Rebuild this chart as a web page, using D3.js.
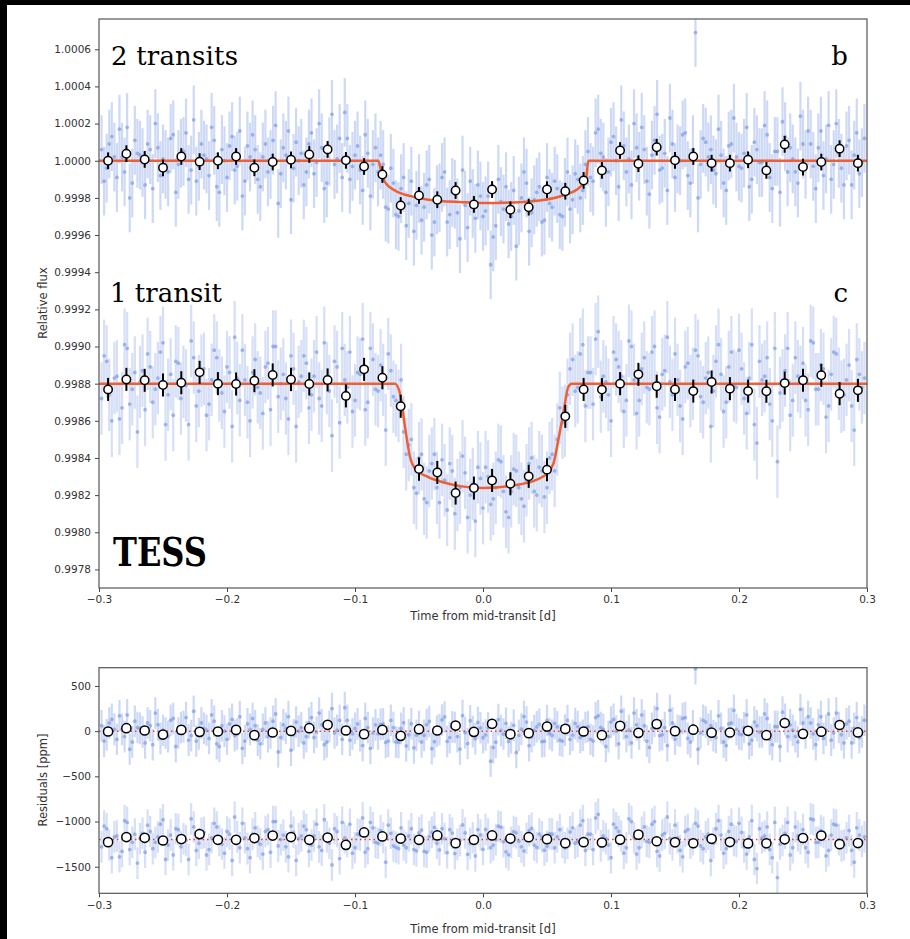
<!DOCTYPE html>
<html>
<head>
<meta charset="utf-8">
<script src="https://cdn.jsdelivr.net/npm/d3@7"></script>
<style>
  body { margin: 0; background: #fff; }
  svg { display: block; }
</style>
</head>
<body>
<svg id="chart" width="910" height="939"></svg>
<script>
// binned points (ppm). b relative to 1.0, c relative to 0.9988
const binT = [-0.2929,-0.2786,-0.2643,-0.2500,-0.2357,-0.2214,-0.2071,-0.1929,-0.1786,-0.1643,
  -0.1500,-0.1357,-0.1214,-0.1071,-0.0929,-0.0786,-0.0643,-0.0500,-0.0357,-0.0214,-0.0071,
  0.0071,0.0214,0.0357,0.0500,0.0643,0.0786,0.0929,0.1071,0.1214,0.1357,0.1500,0.1643,
  0.1786,0.1929,0.2071,0.2214,0.2357,0.2500,0.2643,0.2786,0.2929];
const binB = [0,38,7,-38,23,-5,0,23,-38,-7,5,34,61,2,-31,-74,-241,-187,-210,-160,-235,
  -155,-264,-250,-155,-164,-106,-52,55,-16,73,2,23,-13,-13,5,-52,88,-34,-7,65,-13];
const binC = [-31,23,18,-7,5,61,0,-2,16,47,23,-2,20,-66,77,32,-122,-460,-478,-589,-562,
  -521,-539,-499,-463,-176,-31,-32,0,50,-14,-31,-40,9,-27,-40,-41,3,18,45,-54,-36];
const binResB = [-4,33,7,-38,14,-8,-4,14,-44,-15,3,33,70,7,-33,14,-52,22,7,62,-8,
  81,-33,-22,51,25,-4,-44,58,-19,78,0,16,-17,-15,4,-45,90,-30,-6,68,-14];
const binResC = [-28,28,20,-10,6,61,-2,-2,17,45,28,-2,23,-58,79,35,12,-2,46,-39,-2,
  46,12,27,5,-39,-28,-32,0,55,-18,-30,-40,9,-27,-42,-41,3,18,45,-50,-38];
const binErrB = 45, binErrC = 62;

// transit models (knots, ppm)
const modelBT = [-0.3,-0.0818,-0.0797,-0.0766,-0.0688,-0.0557,-0.0427,-0.0166,0.002,0.0367,0.0625,0.0758,0.0805,0.0823,0.3];
const modelBV = [0,0,-52,-115,-160,-192,-210,-223,-228,-219,-187,-142,-97,0,0];
const modelCT = [-0.3,-0.0688,-0.0648,-0.0609,-0.057,-0.053,-0.0427,-0.0297,-0.0166,0,0.0237,0.042,0.0498,0.055,0.0588,0.0627,0.0666,0.0693,0.3];
const modelCV = [0,0,-54,-234,-395,-458,-503,-533,-553,-562,-548,-517,-485,-431,-305,-162,-18,0,0];

// unbinned TESS points (ppm), first set of cadences
const rawT = [-0.298,-0.294,-0.290,-0.286,-0.282,-0.278,-0.274,-0.270,-0.266,-0.262,
  -0.258,-0.254,-0.250,-0.246,-0.242,-0.238,-0.234,-0.230,-0.226,-0.222,
  -0.218,-0.214,-0.210,-0.206,-0.202,-0.198,-0.194,-0.190,-0.186,-0.182,
  -0.178,-0.174,-0.170,-0.166,-0.162,-0.158,-0.154,-0.150,-0.146,-0.142,
  -0.138,-0.134,-0.130,-0.126,-0.122,-0.118,-0.114,-0.110,-0.106,-0.102,
  -0.098,-0.094,-0.090,-0.086,-0.082,-0.078,-0.074,-0.070,-0.066,-0.062,
  -0.058,-0.054,-0.050,-0.046,-0.042,-0.038,-0.034,-0.030,-0.026,-0.022,
  -0.018,-0.014,-0.010,-0.006,-0.002,0.002,0.006,0.010,0.014,0.018,
  0.022,0.026,0.030,0.034,0.038,0.042,0.046,0.050,0.054,0.058,
  0.062,0.066,0.070,0.074,0.078,0.082,0.086,0.090,0.094,0.098,
  0.102,0.106,0.110,0.114,0.118,0.122,0.126,0.130,0.134,0.138,
  0.142,0.146,0.150,0.154,0.158,0.162,0.166,0.170,0.174,0.178,
  0.182,0.186,0.190,0.194,0.198,0.202,0.206,0.210,0.214,0.218,
  0.222,0.226,0.230,0.234,0.238,0.242,0.246,0.250,0.254,0.258,
  0.262,0.266,0.270,0.274,0.278,0.282,0.286,0.290,0.294,0.298];
const rawB = [60,-40,130,-90,20,180,-120,40,-10,90,
  -150,70,10,-60,140,-20,50,-100,220,-30,
  30,-80,110,-170,0,80,-50,160,-110,20,
  60,-140,90,-20,190,-70,30,-210,100,40,
  -60,150,-10,70,-120,250,10,-90,120,-30,
  80,-160,40,-20,-60,-20,-260,-120,-300,-90,
  -230,-380,-150,-250,-100,-330,-200,-60,-290,-180,
  -420,-240,-110,-310,-190,-270,-560,-350,-220,-140,
  -300,-460,-200,-120,-280,-170,-330,-90,-250,-150,
  -300,-60,-210,-100,-160,50,-110,170,20,-60,
  130,-140,80,10,200,-30,60,-180,110,-50,
  40,230,-90,0,150,-120,690,-20,100,60,
  -70,30,-160,90,20,-40,180,-100,60,-10,
  140,-150,50,210,-60,10,-120,90,160,-30,
  70,-80,190,-20,40,-130,110,30,-70,120];
const rawC = [-80,120,-200,40,-130,190,-30,-260,70,160,
  -100,30,220,-60,-170,110,10,-220,140,-40,
  80,-110,180,-10,-150,60,250,-90,20,-200,
  130,-50,90,-140,200,0,-80,150,-230,40,
  110,-60,170,-120,30,-280,90,190,-20,-150,
  60,240,-100,130,-40,20,160,-70,-120,-260,
  -330,-560,-400,-620,-470,-380,-640,-520,-430,-700,
  -560,-480,-600,-740,-510,-450,-650,-560,-420,-690,
  -580,-470,-620,-520,-400,-600,-470,-560,-380,-300,
  -210,-60,130,-20,210,60,-110,280,40,-60,
  170,90,-150,230,20,-90,140,-30,200,-180,
  70,10,160,-120,90,-40,180,-70,30,-230,
  120,50,-100,170,-20,80,-160,210,-320,20,
  140,-200,-420,-10,190,-90,40,110,-140,220,
  -30,80,-120,170,0,-60,100,-250,50,30];
const rawResB = [60,-40,130,-90,20,180,-120,40,-10,90,
  -150,70,10,-60,140,-20,50,-100,220,-30,
  30,-80,110,-170,0,80,-50,160,-110,20,
  60,-140,90,-20,190,-70,30,-210,100,40,
  -60,150,-10,70,-120,250,10,-90,120,-30,
  80,-160,40,-20,-30,80,-110,40,-125,93,
  -40,-185,50,-46,107,-117,15,157,-71,40,
  -198,-17,115,-84,37,-42,-332,-122,7,86,
  -75,-236,22,100,-62,47,-117,118,-47,47,
  -110,118,-45,50,-45,50,-110,170,20,-60,
  130,-140,80,10,200,-30,60,-180,110,-50,
  40,230,-90,0,150,-120,690,-20,100,60,
  -70,30,-160,90,20,-40,180,-100,60,-10,
  140,-150,50,210,-60,10,-120,90,160,-30,
  70,-80,190,-20,40,-130,110,30,-70,120];
const rawResC = [-80,120,-200,40,-130,190,-30,-260,70,160,
  -100,30,220,-60,-170,110,10,-220,140,-40,
  80,-110,180,-10,-150,60,250,-90,20,-200,
  130,-50,90,-140,200,0,-80,150,-230,40,
  110,-60,170,-120,30,-280,90,190,-20,-150,
  60,240,-100,130,-40,20,160,-70,-100,-60,
  40,-110,75,-130,35,135,-115,12,110,-155,
  -10,73,-44,-181,51,112,-89,0,138,-135,
  -30,75,-80,13,125,-87,30,-75,60,30,
  -30,-40,130,-20,210,60,-110,280,40,-60,
  170,90,-150,230,20,-90,140,-30,200,-180,
  70,10,160,-120,90,-40,180,-70,30,-230,
  120,50,-100,170,-20,80,-160,210,-320,20,
  140,-200,-420,-10,190,-90,40,110,-140,220,
  -30,80,-120,170,0,-60,100,-250,50,30];

// second set of cadences (interleaved)
const rawT2 = [-0.296,-0.292,-0.288,-0.284,-0.280,-0.276,-0.272,-0.268,-0.264,-0.260,
  -0.256,-0.252,-0.248,-0.244,-0.240,-0.236,-0.232,-0.228,-0.224,-0.220,
  -0.216,-0.212,-0.208,-0.204,-0.200,-0.196,-0.192,-0.188,-0.184,-0.180,
  -0.176,-0.172,-0.168,-0.164,-0.160,-0.156,-0.152,-0.148,-0.144,-0.140,
  -0.136,-0.132,-0.128,-0.124,-0.120,-0.116,-0.112,-0.108,-0.104,-0.100,
  -0.096,-0.092,-0.088,-0.084,-0.080,-0.076,-0.072,-0.068,-0.064,-0.060,
  -0.056,-0.052,-0.048,-0.044,-0.040,-0.036,-0.032,-0.028,-0.024,-0.020,
  -0.016,-0.012,-0.008,-0.004,0.000,0.004,0.008,0.012,0.016,0.020,
  0.024,0.028,0.032,0.036,0.040,0.044,0.048,0.052,0.056,0.060,
  0.064,0.068,0.072,0.076,0.080,0.084,0.088,0.092,0.096,0.100,
  0.104,0.108,0.112,0.116,0.120,0.124,0.128,0.132,0.136,0.140,
  0.144,0.148,0.152,0.156,0.160,0.164,0.168,0.172,0.176,0.180,
  0.184,0.188,0.192,0.196,0.200,0.204,0.208,0.212,0.216,0.220,
  0.224,0.228,0.232,0.236,0.240,0.244,0.248,0.252,0.256,0.260,
  0.264,0.268,0.272,0.276,0.280,0.284,0.288,0.292,0.296];
const rawB2 = [-110,90,20,170,-60,-200,110,30,-130,60,
  200,-80,-20,120,-170,40,150,-50,-110,90,
  10,180,-140,60,-90,130,-30,-190,80,140,
  -100,20,-60,110,-230,70,160,-40,0,-130,
  90,-70,200,-150,50,-20,120,260,-100,30,
  -50,140,-190,70,30,-250,-40,-290,-150,-350,
  -110,-240,-320,-130,-400,-210,-90,-330,-170,-280,
  -50,-360,-230,-130,-300,-190,-410,-100,-260,-340,
  -160,-270,-60,-380,-210,-140,-320,-230,-110,-290,
  -170,-260,-70,-200,-20,-90,150,40,-170,100,
  0,220,-60,-130,70,180,-110,30,250,-40,
  -160,90,10,140,-80,60,-200,120,20,-50,
  170,-120,80,230,-30,40,-140,100,-10,190,
  -90,50,-170,130,70,-60,240,-20,90,-150,
  160,10,-100,200,-40,80,-130,150,-10];
const rawC2 = [150,-60,30,-190,210,-110,60,10,-140,90,
  -30,170,-220,50,120,-80,-10,230,-120,70,
  -170,20,140,-50,90,-230,30,180,-100,60,
  -20,-160,110,200,-70,50,-190,80,10,150,
  -130,40,-80,220,-40,120,-210,20,170,-90,
  50,-140,190,-30,100,-250,70,-90,20,-380,
  -300,-590,-380,-640,-430,-560,-410,-680,-470,-600,
  -390,-720,-540,-450,-670,-500,-620,-410,-580,-720,
  -460,-560,-660,-430,-580,-450,-610,-400,-470,-130,
  -200,80,-40,160,-120,60,240,-70,10,-200,
  130,40,-90,200,-160,80,-20,170,-130,50,
  250,-60,20,-190,110,0,150,-100,60,-40,
  210,-150,90,-10,180,-80,30,-220,120,40,
  -110,190,-50,70,-170,140,10,-90,230,-30,
  100,-180,50,160,-70,20,-120,130,-20];
const rawResB2 = [-110,90,20,170,-60,-200,110,30,-130,60,
  200,-80,-20,120,-170,40,150,-50,-110,90,
  10,180,-140,60,-90,130,-30,-190,80,140,
  -100,20,-60,110,-230,70,160,-40,0,-130,
  90,-70,200,-150,50,-20,120,260,-100,30,
  -50,140,-190,70,75,-125,120,-120,30,-163,
  82,-45,-120,73,-194,0,124,-114,48,-60,
  172,-137,-5,96,-73,38,-182,128,-33,-114,
  65,-47,161,-161,7,75,-112,-27,86,-100,
  12,-90,85,-70,40,-90,150,40,-170,100,
  0,220,-60,-130,70,180,-110,30,250,-40,
  -160,90,10,140,-80,60,-200,120,20,-50,
  170,-120,80,230,-30,40,-140,100,-10,190,
  -90,50,-170,130,70,-60,240,-20,90,-150,
  160,10,-100,200,-40,80,-130,150,-10];
const rawResC2 = [150,-60,30,-190,210,-110,60,10,-140,90,
  -30,170,-220,50,120,-80,-10,230,-120,70,
  -170,20,140,-50,90,-230,30,180,-100,60,
  -20,-160,110,200,-70,50,-190,80,10,150,
  -130,40,-80,220,-40,120,-210,20,170,-90,
  50,-140,190,-30,100,-250,70,-85,130,-90,
  120,-125,105,-140,80,-40,120,-144,72,-52,
  163,-163,20,111,-108,61,-60,148,-24,-168,
  88,-18,-125,98,-60,60,-117,65,-90,110,
  -90,85,-40,160,-120,60,240,-70,10,-200,
  130,40,-90,200,-160,80,-20,170,-130,50,
  250,-60,20,-190,110,0,150,-100,60,-40,
  210,-150,90,-10,180,-80,30,-220,120,40,
  -110,190,-50,70,-170,140,10,-90,230,-30,
  100,-180,50,160,-70,20,-120,130,-20];
const rawErrB = 185, rawErrC = 195, rawErrRes = 175;

const baseB = 1.0, baseC = 0.9988;   // flux levels of the two light curves
const resOffsets = [0, -1200];         // residual rows (ppm)

const fluxTicks = [0.9978,0.9980,0.9982,0.9984,0.9986,0.9988,0.9990,0.9992,0.9994,0.9996,0.9998,1.0000,1.0002,1.0004,1.0006];
const timeTicks = [-0.3,-0.2,-0.1,0.0,0.1,0.2,0.3];
const resTicks = [500,0,-500,-1000,-1500];

const svg = d3.select('#chart');
svg.append('rect').attr('width', 910).attr('height', 939).attr('fill', '#fff');

const x = d3.scaleLinear().domain([-0.3, 0.3]).range([99, 867]);
const yTop = d3.scaleLinear().domain([0.99770, 1.000763]).range([588, 19]);
const yRes = d3.scaleLinear().domain([-1794, 702]).range([893.3, 667.7]);

const defs = svg.append('defs');
defs.append('clipPath').attr('id', 'clipTop').append('rect')
  .attr('x', 99).attr('y', 19).attr('width', 768).attr('height', 569);
defs.append('clipPath').attr('id', 'clipRes').append('rect')
  .attr('x', 99).attr('y', 667.7).attr('width', 768).attr('height', 225.6);

const rawColor = '#7896e2';
const modelColor = '#ef5f34';

// draw one cloud of unbinned points with error bars
function drawRaw(g, times, vals, base, err, yScale, alpha) {
  const pts = times.map((t, i) => ({ t, v: vals[i] }));
  g.append('g').selectAll('line').data(pts).join('line')
    .attr('x1', d => x(d.t)).attr('x2', d => x(d.t))
    .attr('y1', d => yScale(base(d.v - err))).attr('y2', d => yScale(base(d.v + err)))
    .attr('stroke', rawColor).attr('stroke-width', 2.2).attr('stroke-opacity', alpha);
  g.append('g').selectAll('circle').data(pts).join('circle')
    .attr('cx', d => x(d.t)).attr('cy', d => yScale(base(d.v)))
    .attr('r', 1.9).attr('fill', rawColor).attr('fill-opacity', 0.65);
}

function drawBinned(g, vals, base, err, yScale, r) {
  const pts = binT.map((t, i) => ({ t, v: vals[i] }));
  if (err > 0) {
    g.append('g').selectAll('line').data(pts).join('line')
      .attr('x1', d => x(d.t)).attr('x2', d => x(d.t))
      .attr('y1', d => yScale(base(d.v - err))).attr('y2', d => yScale(base(d.v + err)))
      .attr('stroke', '#000').attr('stroke-width', 2);
  }
  g.append('g').selectAll('circle').data(pts).join('circle')
    .attr('cx', d => x(d.t)).attr('cy', d => yScale(base(d.v)))
    .attr('r', r).attr('fill', '#fff').attr('stroke', '#000').attr('stroke-width', 1.5);
}

const fluxB = v => baseB + v * 1e-6;
const fluxC = v => baseC + v * 1e-6;
const resB = v => v + resOffsets[0];
const resC = v => v + resOffsets[1];

// ---- top panel
const topG = svg.append('g').attr('clip-path', 'url(#clipTop)');
drawRaw(topG, rawT, rawB, fluxB, rawErrB, yTop, 0.36);
drawRaw(topG, rawT2, rawB2, fluxB, rawErrB, yTop, 0.36);
drawRaw(topG, rawT, rawC, fluxC, rawErrC, yTop, 0.3);
drawRaw(topG, rawT2, rawC2, fluxC, rawErrC, yTop, 0.3);

const modelLine = d3.line().x(d => x(d[0])).y(d => yTop(d[1])).curve(d3.curveMonotoneX);
topG.append('path').datum(modelBT.map((t, i) => [t, fluxB(modelBV[i])]))
  .attr('d', modelLine).attr('fill', 'none').attr('stroke', modelColor).attr('stroke-width', 2.5);
topG.append('path').datum(modelCT.map((t, i) => [t, fluxC(modelCV[i])]))
  .attr('d', modelLine).attr('fill', 'none').attr('stroke', modelColor).attr('stroke-width', 2.5);

drawBinned(topG, binB, fluxB, binErrB, yTop, 4.2);
drawBinned(topG, binC, fluxC, binErrC, yTop, 4.2);

// ---- residual panel
const resG = svg.append('g').attr('clip-path', 'url(#clipRes)');
drawRaw(resG, rawT, rawResB, resB, rawErrRes, yRes, 0.36);
drawRaw(resG, rawT2, rawResB2, resB, rawErrRes, yRes, 0.36);
drawRaw(resG, rawT, rawResC, resC, rawErrRes, yRes, 0.3);
drawRaw(resG, rawT2, rawResC2, resC, rawErrRes, yRes, 0.3);
resG.append('g').selectAll('line').data(resOffsets).join('line')
  .attr('x1', x(-0.3)).attr('x2', x(0.3))
  .attr('y1', d => yRes(d)).attr('y2', d => yRes(d))
  .attr('stroke', '#e0473a').attr('stroke-width', 1.5).attr('stroke-dasharray', '1.5,3');
drawBinned(resG, binResB, resB, 0, yRes, 4.6);
drawBinned(resG, binResC, resC, 0, yRes, 4.6);

// ---- axes
function styleAxis(g) {
  g.select('.domain').remove();
  g.selectAll('.tick line').attr('stroke', '#444');
  g.selectAll('.tick text').attr('fill', '#333')
    .style('font-family', 'DejaVu Sans, sans-serif').style('font-size', '10.5px');
}

svg.append('g').attr('transform', 'translate(99,0)')
  .call(d3.axisLeft(yTop).tickValues(fluxTicks).tickFormat(d3.format('.4f')).tickSize(4).tickPadding(4))
  .call(styleAxis);
svg.append('g').attr('transform', 'translate(0,588)')
  .call(d3.axisBottom(x).tickValues(timeTicks).tickFormat(d3.format('.1f')).tickSize(4).tickPadding(4))
  .call(styleAxis);
svg.append('g').attr('transform', 'translate(99,0)')
  .call(d3.axisLeft(yRes).tickValues(resTicks).tickFormat(d3.format('d')).tickSize(4).tickPadding(4))
  .call(styleAxis);
svg.append('g').attr('transform', 'translate(0,893.3)')
  .call(d3.axisBottom(x).tickValues(timeTicks).tickFormat(d3.format('.1f')).tickSize(4).tickPadding(4))
  .call(styleAxis);

// frames
svg.append('rect').attr('x', 99).attr('y', 19).attr('width', 768).attr('height', 569)
  .attr('fill', 'none').attr('stroke', '#555').attr('stroke-width', 1.2);
svg.append('rect').attr('x', 99).attr('y', 667.7).attr('width', 768).attr('height', 225.6)
  .attr('fill', 'none').attr('stroke', '#555').attr('stroke-width', 1.2);

// axis labels
const sans = 'DejaVu Sans, sans-serif';
svg.append('text').attr('x', 483).attr('y', 620).attr('text-anchor', 'middle')
  .style('font-family', sans).style('font-size', '11.5px').attr('fill', '#333')
  .text('Time from mid-transit [d]');
svg.append('text').attr('x', 483).attr('y', 933).attr('text-anchor', 'middle')
  .style('font-family', sans).style('font-size', '11.5px').attr('fill', '#333')
  .text('Time from mid-transit [d]');
svg.append('text').attr('transform', 'translate(47,303) rotate(-90)').attr('text-anchor', 'middle')
  .style('font-family', sans).style('font-size', '11.5px').attr('fill', '#333')
  .text('Relative flux');
svg.append('text').attr('transform', 'translate(47,780) rotate(-90)').attr('text-anchor', 'middle')
  .style('font-family', sans).style('font-size', '11.5px').attr('fill', '#333')
  .text('Residuals [ppm]');

// panel annotations
const serif = 'DejaVu Serif, serif';
svg.append('text').attr('x', 111).attr('y', 65).attr('textLength', 127).attr('lengthAdjust', 'spacing')
  .style('font-family', serif).style('font-size', '26px').text('2 transits');
svg.append('text').attr('x', 848).attr('y', 65).attr('text-anchor', 'end')
  .style('font-family', serif).style('font-size', '26px').text('b');
svg.append('text').attr('x', 110).attr('y', 302).attr('textLength', 112).attr('lengthAdjust', 'spacing')
  .style('font-family', serif).style('font-size', '26px').text('1 transit');
svg.append('text').attr('x', 848).attr('y', 302).attr('text-anchor', 'end')
  .style('font-family', serif).style('font-size', '26px').text('c');
svg.append('text').attr('x', 113).attr('y', 566).attr('textLength', 94).attr('lengthAdjust', 'spacingAndGlyphs')
  .style('font-family', serif).style('font-size', '40px').style('font-weight', 'bold').text('TESS');

// dark border of the screenshot
svg.append('rect').attr('x', 0).attr('y', 0).attr('width', 910).attr('height', 5).attr('fill', '#000');
svg.append('rect').attr('x', 0).attr('y', 0).attr('width', 7).attr('height', 939).attr('fill', '#000');
</script>
</body>
</html>
